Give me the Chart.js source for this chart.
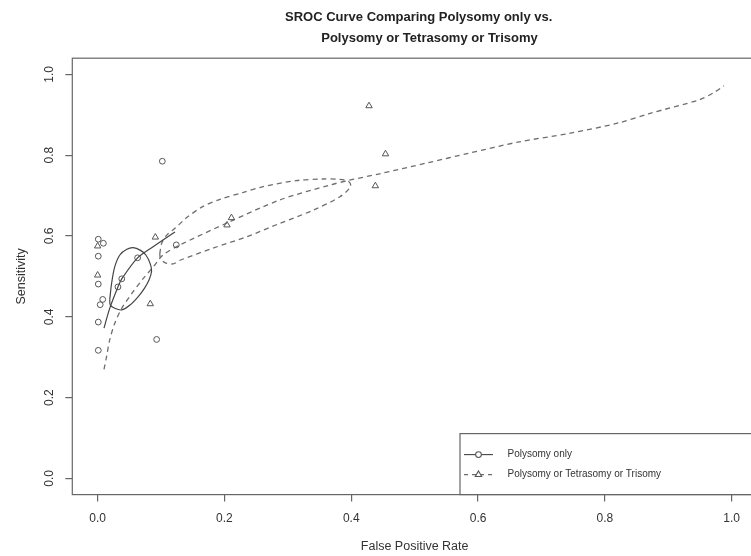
<!DOCTYPE html>
<html lang="en">
<head>
  <meta charset="UTF-8">
  <title>SROC Curve</title>
  <script src="https://cdn.jsdelivr.net/npm/chart.js"></script>
  <style>
    html, body {
      margin: 0;
      padding: 0;
      overflow: hidden;
      background: #fff;
    }

    #sroc {
      display: block;
      width: 762px;
      height: 556px;
    }
  </style>
</head>
<body>
  <canvas id="sroc" width="762" height="556"></canvas>
  <script>
    // 讀圖估計的數值
    const titleLines = ['SROC Curve Comparing Polysomy only vs.', '      Polysomy or Tetrasomy or Trisomy'];
    const seriesNames = ['Polysomy only', 'Polysomy or Tetrasomy or Trisomy'];
    const xTicks = [0, 0.2, 0.4, 0.6, 0.8, 1.0];
    const yTicks = [0, 0.2, 0.4, 0.6, 0.8, 1.0];

    // Polysomy only 各研究 (圓點)
    const polyFpr = [0.102, 0.001, 0.009, 0.001, 0.124, 0.063, 0.038, 0.032, 0.001, 0.008, 0.004, 0.001, 0.093, 0.001];
    const polySens = [0.785, 0.592, 0.582, 0.550, 0.578, 0.546, 0.494, 0.474, 0.481, 0.443, 0.430, 0.387, 0.344, 0.317];

    // Polysomy or Tetrasomy or Trisomy 各研究 (三角形)
    const triFpr = [0.000, 0.091, 0.000, 0.083, 0.428, 0.454, 0.438, 0.211, 0.204];
    const triSens = [0.575, 0.597, 0.503, 0.432, 0.922, 0.803, 0.724, 0.645, 0.627];

    // SROC 曲線 (實線)
    const polyCurveFpr = [0.010, 0.019, 0.032, 0.038, 0.063, 0.088, 0.122];
    const polyCurveSens = [0.372, 0.421, 0.474, 0.494, 0.546, 0.574, 0.610];

    // 信賴區域 (實線)
    const polyRegionFpr = [0.019, 0.022, 0.027, 0.035, 0.046, 0.056, 0.067, 0.076, 0.083, 0.085, 0.081, 0.074, 0.064, 0.051, 0.038, 0.027, 0.020, 0.019];
    const polyRegionSens = [0.442, 0.483, 0.524, 0.553, 0.567, 0.571, 0.565, 0.553, 0.531, 0.512, 0.491, 0.471, 0.450, 0.429, 0.417, 0.421, 0.429, 0.442];

    // SROC 曲線 (虛線)
    const triCurveFpr = [0.010, 0.014, 0.019, 0.027, 0.038, 0.054, 0.072, 0.088, 0.103, 0.130, 0.208, 0.287, 0.366, 0.397, 0.445, 0.520, 0.586, 0.665, 0.744, 0.822, 0.870, 0.949, 0.972, 0.988];
    const triCurveSens = [0.270, 0.301, 0.343, 0.384, 0.421, 0.458, 0.495, 0.524, 0.553, 0.578, 0.635, 0.689, 0.726, 0.738, 0.754, 0.781, 0.805, 0.833, 0.854, 0.880, 0.903, 0.937, 0.955, 0.972];

    // 信賴區域 (虛線)
    const triRegionFpr = [0.098, 0.101, 0.109, 0.122, 0.140, 0.165, 0.192, 0.230, 0.261, 0.313, 0.355, 0.382, 0.396, 0.399, 0.382, 0.340, 0.287, 0.235, 0.182, 0.130, 0.119, 0.106, 0.099, 0.098];
    const triRegionSens = [0.556, 0.582, 0.602, 0.619, 0.645, 0.672, 0.690, 0.708, 0.722, 0.737, 0.741, 0.740, 0.735, 0.722, 0.697, 0.664, 0.631, 0.598, 0.570, 0.540, 0.531, 0.534, 0.545, 0.556];

    const toXY = (xs, ys) => xs.map((x, i) => ({ x: x, y: ys[i] }));

    const FONT = '"Liberation Sans", Arial, Helvetica, sans-serif';
    Chart.defaults.font.family = FONT;
    Chart.defaults.color = '#333';

    const markColor = '#555';
    const solidColor = '#444';
    const dashColor = '#6e6e6e';
    const dash = [5, 4];

    // 外框、標題、圖例
    const framePlugin = {
      id: 'framePlugin',
      beforeDatasetsDraw(chart) {
        const { ctx, chartArea: a } = chart;
        ctx.save();
        ctx.strokeStyle = '#666';
        ctx.lineWidth = 1.2;
        ctx.strokeRect(a.left, a.top, a.right - a.left, a.bottom - a.top);
        ctx.restore();
      },
      afterDraw(chart) {
        const { ctx, chartArea: a } = chart;
        const ds = chart.data.datasets;
        ctx.save();

        // 標題
        ctx.fillStyle = '#222';
        ctx.font = 'bold 13px ' + FONT;
        ctx.textAlign = 'center';
        ctx.textBaseline = 'middle';
        const cx = (a.left + a.right) / 2 + 4;
        titleLines.forEach((t, i) => ctx.fillText(t, cx, 17 + i * 21));

        // 圖例
        const lx = a.right - 297;
        const ly = a.bottom - 61;
        ctx.fillStyle = '#fff';
        ctx.fillRect(lx, ly, a.right - lx, a.bottom - ly);
        ctx.strokeStyle = '#666';
        ctx.lineWidth = 1.2;
        ctx.strokeRect(lx, ly, a.right - lx + 5, a.bottom - ly);

        [0, 1].forEach(i => {
          const d = ds[i];
          const y = ly + 21 + i * 20;
          ctx.strokeStyle = i === 0 ? solidColor : dashColor;
          ctx.lineWidth = 1.1;
          ctx.setLineDash(i === 0 ? [] : [4, 4]);
          ctx.beginPath();
          ctx.moveTo(lx + 4, y);
          ctx.lineTo(lx + 33, y);
          ctx.stroke();
          ctx.setLineDash([]);

          const mx = lx + 18.5;
          const r = d.pointRadius;
          ctx.strokeStyle = markColor;
          ctx.fillStyle = '#fff';
          ctx.beginPath();
          if (d.pointStyle === 'triangle') {
            ctx.moveTo(mx, y - r);
            ctx.lineTo(mx + r * 0.866, y + r / 2);
            ctx.lineTo(mx - r * 0.866, y + r / 2);
            ctx.closePath();
          } else {
            ctx.arc(mx, y, r, 0, Math.PI * 2);
          }
          ctx.fill();
          ctx.stroke();

          ctx.fillStyle = '#333';
          ctx.font = '10px ' + FONT;
          ctx.textAlign = 'left';
          ctx.textBaseline = 'middle';
          ctx.fillText(d.label, lx + 47.5, y);
        });
        ctx.restore();
      }
    };

    new Chart(document.getElementById('sroc'), {
      type: 'scatter',
      data: {
        datasets: [
          {
            label: seriesNames[0],
            data: toXY(polyFpr, polySens),
            pointStyle: 'circle',
            pointRadius: 2.9,
            pointBorderWidth: 1,
            borderColor: markColor,
            backgroundColor: 'rgba(0,0,0,0)'
          },
          {
            label: seriesNames[1],
            data: toXY(triFpr, triSens),
            pointStyle: 'triangle',
            pointRadius: 3.7,
            pointBorderWidth: 1,
            borderColor: markColor,
            backgroundColor: 'rgba(0,0,0,0)'
          },
          {
            label: 'poly curve',
            data: toXY(polyCurveFpr, polyCurveSens),
            showLine: true,
            pointRadius: 0,
            borderColor: solidColor,
            borderWidth: 1.2,
            tension: 0.3
          },
          {
            label: 'poly region',
            data: toXY(polyRegionFpr, polyRegionSens),
            showLine: true,
            pointRadius: 0,
            borderColor: solidColor,
            borderWidth: 1.2,
            tension: 0.3
          },
          {
            label: 'tri curve',
            data: toXY(triCurveFpr, triCurveSens),
            showLine: true,
            pointRadius: 0,
            borderColor: dashColor,
            borderWidth: 1.3,
            borderDash: dash,
            tension: 0.3
          },
          {
            label: 'tri region',
            data: toXY(triRegionFpr, triRegionSens),
            showLine: true,
            pointRadius: 0,
            borderColor: dashColor,
            borderWidth: 1.3,
            borderDash: dash,
            tension: 0.3
          }
        ]
      },
      options: {
        responsive: false,
        animation: false,
        layout: {
          padding: { top: 58.2, left: 0, right: 0, bottom: 0 }
        },
        plugins: {
          legend: { display: false },
          tooltip: { enabled: false }
        },
        scales: {
          x: {
            type: 'linear',
            min: -0.04,
            max: 1.04,
            afterBuildTicks: scale => { scale.ticks = xTicks.map(v => ({ value: v })); },
            afterFit: scale => {
              scale.height = 61.4;
              scale.paddingLeft = 0;
              scale.paddingRight = 0;
            },
            border: { display: false },
            grid: {
              drawOnChartArea: false,
              drawTicks: true,
              tickLength: 7,
              color: '#666',
              lineWidth: 1.2
            },
            ticks: {
              padding: 10,
              font: { size: 12 },
              color: '#333',
              callback: v => v.toFixed(1)
            },
            title: {
              display: true,
              text: 'False Positive Rate',
              font: { size: 12.5 },
              color: '#333',
              padding: { top: 0, bottom: 2 }
            }
          },
          y: {
            type: 'linear',
            min: -0.04,
            max: 1.04,
            afterBuildTicks: scale => { scale.ticks = yTicks.map(v => ({ value: v })); },
            afterFit: scale => {
              scale.width = 72.3;
              scale.paddingTop = 0;
              scale.paddingBottom = 0;
            },
            border: { display: false },
            grid: {
              drawOnChartArea: false,
              drawTicks: true,
              tickLength: 7,
              color: '#666',
              lineWidth: 1.2
            },
            ticks: {
              padding: 7,
              minRotation: 90,
              maxRotation: 90,
              crossAlign: 'center',
              font: { size: 12 },
              color: '#333',
              callback: v => v.toFixed(1)
            },
            title: {
              display: true,
              text: 'Sensitivity',
              font: { size: 12.5 },
              color: '#333',
              padding: { top: 14.5, bottom: 0 }
            }
          }
        }
      },
      plugins: [framePlugin]
    });
  </script>
</body>
</html>
